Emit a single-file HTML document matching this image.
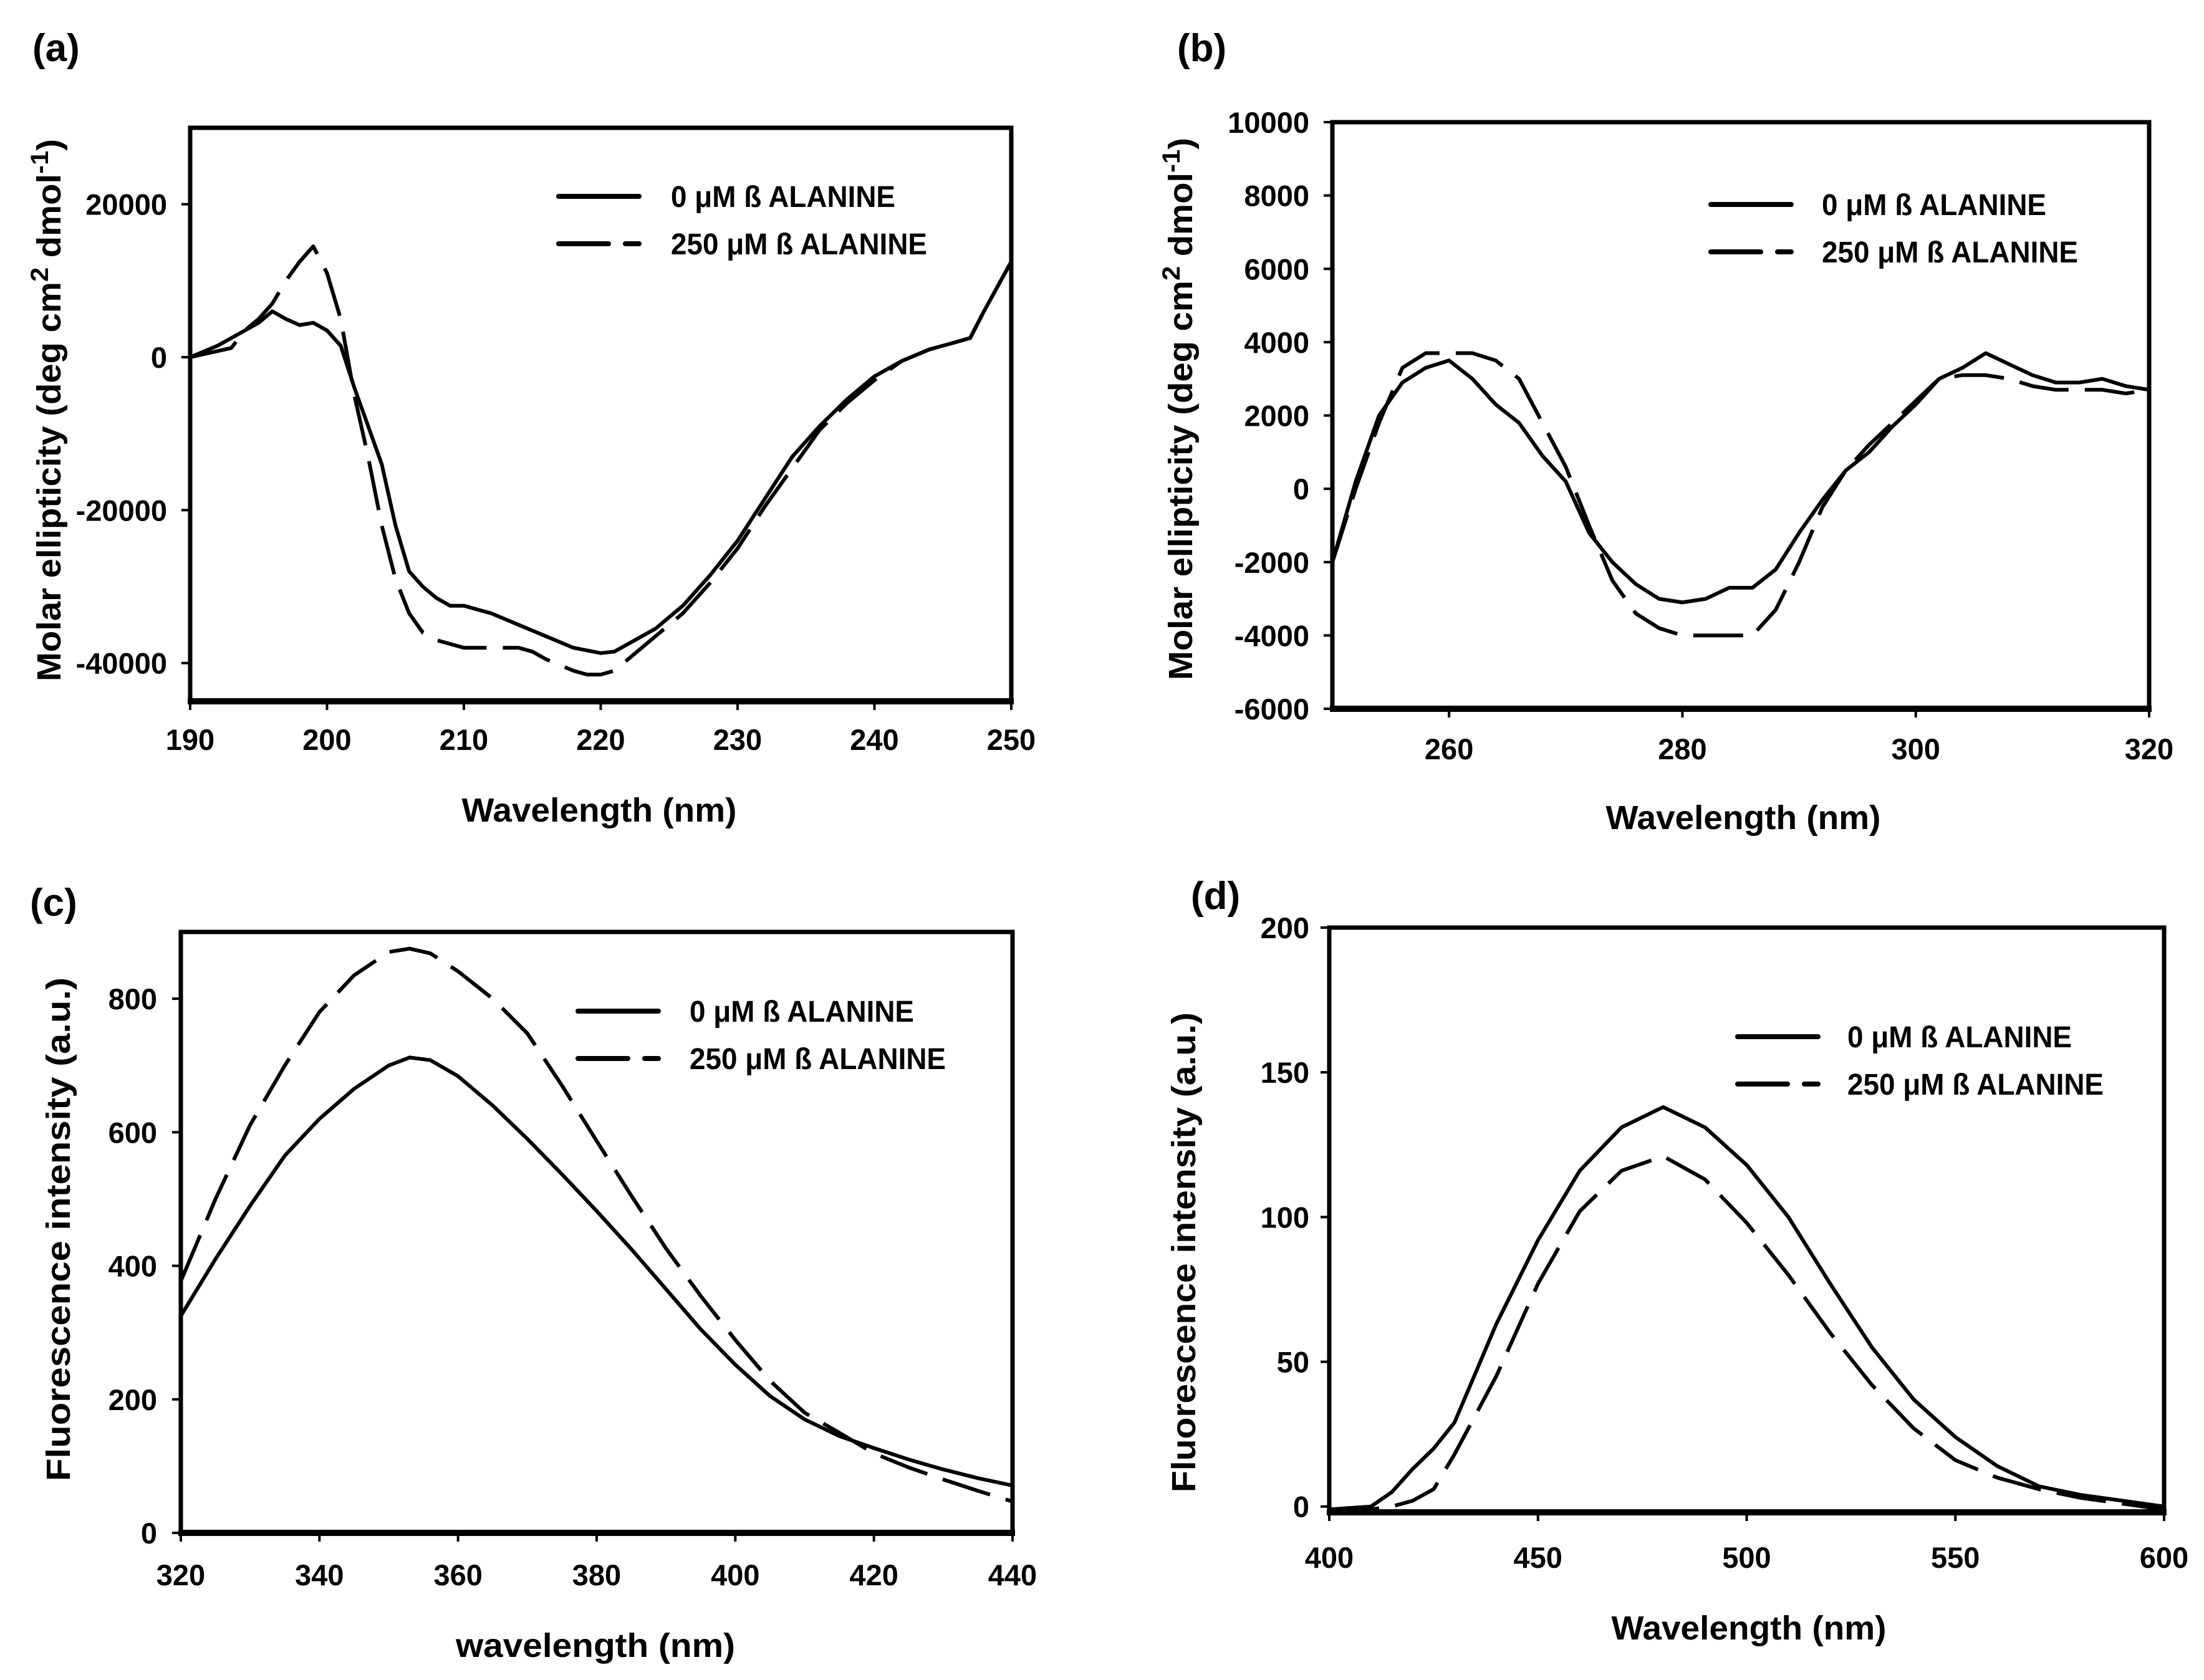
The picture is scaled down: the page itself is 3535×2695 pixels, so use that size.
<!DOCTYPE html>
<html><head><meta charset="utf-8"><style>
html,body{margin:0;padding:0;background:#fff;}
svg{display:block;}
text{font-family:"Liberation Sans",Arial,sans-serif;font-weight:bold;fill:#000;}
</style></head>
<body>
<svg id="fig" width="3535" height="2695" viewBox="0 0 3535 2695" xmlns="http://www.w3.org/2000/svg"></svg>
<script>
// ---- Panel (a) data: far-UV CD ----
const aX0 = [190,192,194,195,196,197,198,199,200,201,202,203,204,205,206,207,208,209,210,212,214,216,218,220,221,222,224,226,228,230,232,234,236,238,240,242,244,246,247,248,250];
const aY0 = [0,1500,3500,4500,6000,5000,4200,4500,3500,1500,-4000,-9000,-14000,-22000,-28000,-30000,-31500,-32500,-32500,-33500,-35000,-36500,-38000,-38700,-38500,-37500,-35500,-32500,-28500,-24000,-18500,-13000,-9000,-5500,-2500,-500,1000,2000,2500,6000,12500];
const aX1 = [190,192,193,194,195,196,197,198,199,200,201,202,203,204,205,206,207,208,210,212,214,215,216,218,219,220,221,222,224,226,228,230,232,234,236,238,240,242,244,246,247,248,250];
const aY1 = [0,800,1200,3500,5000,7000,10000,12500,14500,11000,5000,-5000,-13000,-22000,-29000,-33500,-36000,-37000,-38000,-38000,-38000,-38500,-39500,-41000,-41500,-41500,-41000,-39500,-36500,-33500,-29500,-25000,-19500,-14500,-9500,-6000,-3000,-500,1000,2000,2500,6000,12500];
const aXTicks = [190,200,210,220,230,240,250];
const aYTicks = [-40000,-20000,0,20000];
// ---- Panel (b) data: near-UV CD ----
const bX = [250,252,254,256,258,260,262,264,266,268,270,272,274,276,278,280,282,284,286,288,290,292,294,296,298,300,302,304,306,308,310,312,314,316,318,320];
const bY0 = [-2000,200,2000,2900,3300,3500,3000,2300,1800,900,200,-1200,-2000,-2600,-3000,-3100,-3000,-2700,-2700,-2200,-1200,-300,500,1000,1700,2300,3000,3300,3700,3400,3100,2900,2900,3000,2800,2700];
const bY1 = [-2000,0,1800,3300,3700,3700,3700,3500,3000,1800,600,-1000,-2500,-3400,-3800,-4000,-4000,-4000,-4000,-3300,-2000,-500,500,1200,1800,2400,3000,3100,3100,3000,2800,2700,2700,2700,2600,2700];
const bXTicks = [260,280,300,320];
const bYTicks = [-6000,-4000,-2000,0,2000,4000,6000,8000,10000];
// ---- Panel (c) data: Trp fluorescence ----
const cX = [320,325,330,335,340,345,350,353,356,360,365,370,375,380,385,390,395,400,405,410,415,420,425,430,435,440];
const cY0 = [325,410,490,565,620,665,700,712,708,684,640,590,537,482,425,365,305,252,205,170,145,127,110,95,82,71];
const cY1 = [377,500,611,700,780,835,870,875,868,841,800,748,670,587,505,426,355,289,228,180,150,119,98,80,63,47];
const cXTicks = [320,340,360,380,400,420,440];
const cYTicks = [0,200,400,600,800];
// ---- Panel (d) data: ANS fluorescence ----
const dX = [400,410,415,420,425,430,440,450,460,470,480,490,500,510,520,530,540,550,560,570,580,590,600];
const dY0 = [-1,0,5,13,20,29,63,92,116,131,138,131,118,100,77,55,37,24,14,7,4,2,0];
const dY1 = [-1,-1,0,2,6,18,45,77,102,116,121,113,98,80,60,42,27,16,10,6,3,1,-1];
const dXTicks = [400,450,500,550,600];
const dYTicks = [0,50,100,150,200];

const NS = "http://www.w3.org/2000/svg";
const svg = document.getElementById('fig');
function mk(tag, attrs, parent, txt){
  const e = document.createElementNS(NS, tag);
  for (const k in attrs) e.setAttribute(k, attrs[k]);
  if (txt !== undefined) e.textContent = txt;
  (parent||svg).appendChild(e);
  return e;
}

function panel(p){
  const g = mk('g', {});
  
  
  const sx = v => p.L + (v - p.xmin) / (p.xmax - p.xmin) * (p.R - p.L);
  const sy = v => p.B - (v - p.ymin) / (p.ymax - p.ymin) * (p.B - p.T);
  const pl = mk('text', {x:p.lab[0], y:p.lab[1], 'font-size':62}, g, '(' + p.id + ')');
  
  
  const series = [[p.x0, p.y0, 'none'], [p.x1, p.y1, '80 26']];
  series.forEach((s, i) => {
    let d = '';
    s[0].forEach((xv, j) => { d += (j ? 'L' : 'M') + sx(xv).toFixed(1) + ',' + sy(s[1][j]).toFixed(1); });
    const path = mk('path', {d:d, fill:'none', stroke:'#000', 'stroke-width':6, 'stroke-linejoin':'round', 'stroke-dasharray':s[2]}, g);
    
    
  });
  const fr = mk('rect', {x:p.L, y:p.T, width:p.R - p.L, height:p.B - p.T, fill:'none', stroke:'#000', 'stroke-width':7}, g);
  
  
  mk('line', {x1:p.L - 4, x2:p.R + 4, y1:p.B, y2:p.B, stroke:'#000', 'stroke-width':10}, g);
  p.xt.forEach(v => {
    const x = sx(v);
    mk('line', {x1:x, x2:x, y1:p.B, y2:p.B + 14, stroke:'#000', 'stroke-width':4}, g);
    const t = mk('text', {x:x, y:p.xtY, 'font-size':47, 'text-anchor':'middle'}, g, String(v));
    
    
  });
  p.yt.forEach(v => {
    const y = sy(v);
    mk('line', {x1:p.L - 14, x2:p.L, y1:y, y2:y, stroke:'#000', 'stroke-width':4}, g);
    const t = mk('text', {x:p.ytX, y:y + 17, 'font-size':47, 'text-anchor':'end'}, g, String(v));
    
    
  });
  const xt = mk('text', {x:p.xTitle[0], y:p.xTitle[1], 'font-size':54, 'text-anchor':'middle', textLength:p.xTitle[2], lengthAdjust:'spacingAndGlyphs'}, g, p.xTitleText);
  
  
  const yt = mk('text', {x:0, y:0, 'font-size':54, 'text-anchor':'middle', textLength:p.yTitle[2], lengthAdjust:'spacingAndGlyphs', transform:'translate(' + p.yTitle[0] + ',' + p.yTitle[1] + ') rotate(-90)'}, g);
  
  
  if (p.cd) {
    mk('tspan', {}, yt, 'Molar ellipticity (deg cm');
    mk('tspan', {dy:-20, 'font-size':40}, yt, '2');
    mk('tspan', {dy:20}, yt, ' dmol');
    mk('tspan', {dy:-20, 'font-size':40}, yt, '-1');
    mk('tspan', {dy:20}, yt, ')');
  } else {
    yt.textContent = 'Fluorescence intensity (a.u.)';
  }
  const lg = mk('g', {}, g);
  
  
  const [lx, ly, tx] = p.leg;
  mk('line', {x1:lx, x2:lx + 129, y1:ly, y2:ly, stroke:'#000', 'stroke-width':8, 'stroke-linecap':'round'}, lg);
  const l1 = mk('text', {x:tx, y:ly + 17, 'font-size':48, textLength:360, lengthAdjust:'spacingAndGlyphs'}, lg, '0 \u03BCM \u00DF ALANINE');
  
  
  mk('line', {x1:lx, x2:lx + 80, y1:ly + 76, y2:ly + 76, stroke:'#000', 'stroke-width':8, 'stroke-linecap':'round'}, lg);
  mk('line', {x1:lx + 107, x2:lx + 129, y1:ly + 76, y2:ly + 76, stroke:'#000', 'stroke-width':8, 'stroke-linecap':'round'}, lg);
  const l2 = mk('text', {x:tx, y:ly + 93, 'font-size':48, textLength:411, lengthAdjust:'spacingAndGlyphs'}, lg, '250 \u03BCM \u00DF ALANINE');
  
  
}

panel({id:'a', L:305, R:1622, T:205, B:1125, xmin:190, xmax:250, ymin:-45000, ymax:30000,
  x0:aX0, y0:aY0, x1:aX1, y1:aY1, xt:aXTicks, yt:aYTicks, xtY:1203, ytX:268,
  lab:[52,98], xTitle:[961,1318,441], xTitleText:'Wavelength (nm)', yTitle:[97,658,870], cd:true,
  leg:[896,315,1076]});
panel({id:'b', L:2137, R:3447, T:196, B:1137, xmin:250, xmax:320, ymin:-6000, ymax:10000,
  x0:bX, y0:bY0, x1:bX, y1:bY1, xt:bXTicks, yt:bYTicks, xtY:1218, ytX:2100,
  lab:[1888,98], xTitle:[2796,1330,441], xTitleText:'Wavelength (nm)', yTitle:[1912,656,870], cd:true,
  leg:[2744,328,2922]});
panel({id:'c', L:290, R:1624, T:1495, B:2459, xmin:320, xmax:440, ymin:0, ymax:900,
  x0:cX, y0:cY0, x1:cX, y1:cY1, xt:cXTicks, yt:cYTicks, xtY:2543, ytX:252,
  lab:[48,1469], xTitle:[955,2658,448], xTitleText:'wavelength (nm)', yTitle:[112,1972,808], cd:false,
  leg:[927,1622,1106]});
panel({id:'d', L:2132, R:3471, T:1488, B:2426, xmin:400, xmax:600, ymin:-2, ymax:200,
  x0:dX, y0:dY0, x1:dX, y1:dY1, xt:dXTicks, yt:dYTicks, xtY:2515, ytX:2100,
  lab:[1910,1458], xTitle:[2805,2630,441], xTitleText:'Wavelength (nm)', yTitle:[1917,2009,770], cd:false,
  leg:[2787,1663,2963]});
</script>
</body></html>
